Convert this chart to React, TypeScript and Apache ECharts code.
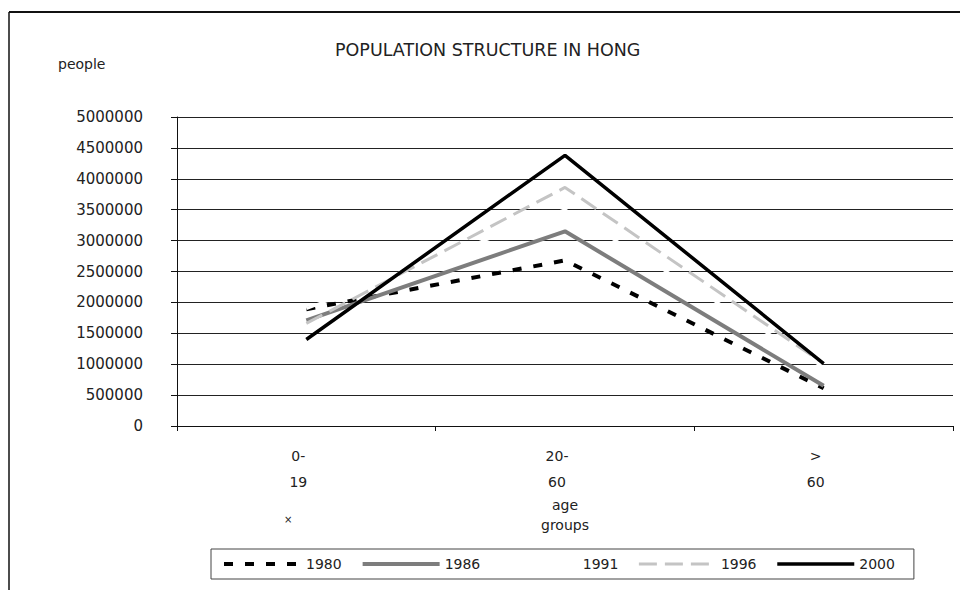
import React, { useEffect, useRef } from "react";
import * as echarts from "echarts";

const categories = ["0-\n19", "20-\n60", ">\n60"];
const seriesNames = ["1980", "1986", "1991", "1996", "2000"];
const values1980 = [1890000, 2680000, 610000];
const values1986 = [1710000, 3150000, 650000];
const values1991 = [1900000, 3500000, 950000];
const values1996 = [1660000, 3860000, 1010000];
const values2000 = [1400000, 4380000, 1010000];
const yTicks = { min: 0, max: 5000000, interval: 500000 };

const FONT = "'DejaVu Sans', sans-serif";

const styles: Record<string, { color: string; width: number; type: any; z: number }> = {
  "1980": { color: "#000000", width: 4, type: [9, 12], z: 2 },
  "1986": { color: "#7d7d7d", width: 4, type: "solid", z: 3 },
  "1991": { color: "#ffffff", width: 3, type: "solid", z: 4 },
  "1996": { color: "#c4c4c4", width: 3, type: [18, 8], z: 5 },
  "2000": { color: "#000000", width: 3.5, type: "solid", z: 6 },
};

export default function App() {
  const ref = useRef<HTMLDivElement>(null);
  useEffect(() => {
    if (!ref.current) return;
    const chart = echarts.init(ref.current, undefined, { renderer: "svg" });
    const mk = (name: string, data: number[]) => {
      const s = styles[name];
      return {
        name,
        type: "line",
        data,
        symbol: "none",
        z: s.z,
        lineStyle: { color: s.color, width: s.width, type: s.type, cap: "butt" },
        itemStyle: { color: s.color },
      };
    };
    chart.setOption({
      animation: false,
      backgroundColor: "#ffffff",
      title: {
        text: "POPULATION STRUCTURE IN HONG",
        left: 330,
        top: 36,
        textStyle: { fontFamily: FONT, fontSize: 17.5, fontWeight: "normal", color: "#222" },
      },
      legend: {
        data: seriesNames.map((n) => ({
          name: n,
          lineStyle: { width: styles[n].width, color: styles[n].color, type: styles[n].type },
        })),
        left: 211,
        top: 549,
        orient: "horizontal",
        itemWidth: 77,
        itemHeight: 12,
        itemGap: 19,
        padding: [8, 19, 8, 11],
        borderColor: "#444",
        borderWidth: 1,
        itemStyle: { opacity: 0 },
        textStyle: { fontFamily: FONT, fontSize: 14, color: "#222" },
      },
      grid: { left: 177, right: 7, top: 117, bottom: 164 },
      xAxis: {
        type: "category",
        data: categories,
        boundaryGap: true,
        name: "age\ngroups",
        nameLocation: "middle",
        nameGap: 69,
        nameMoveOverlap: false,
        nameTextStyle: { fontFamily: FONT, fontSize: 14, color: "#222", lineHeight: 20 },
        axisLine: { lineStyle: { color: "#111", width: 1 } },
        axisTick: { show: true, length: 5, lineStyle: { color: "#111" } },
        axisLabel: {
          fontFamily: FONT,
          fontSize: 14,
          color: "#222",
          lineHeight: 26,
          margin: 17,
          align: "center",
          padding: [0, 16, 0, 0],
        },
      },
      yAxis: {
        type: "value",
        min: yTicks.min,
        max: yTicks.max,
        interval: yTicks.interval,
        axisLine: { show: true, lineStyle: { color: "#111", width: 1 } },
        axisTick: { show: true, length: 6, lineStyle: { color: "#111" } },
        axisLabel: {
          fontFamily: FONT,
          fontSize: 15,
          color: "#222",
          margin: 34,
          formatter: (v: number) => String(v),
        },
        splitLine: { lineStyle: { color: "#222", width: 1 } },
      },
      graphic: [
        { type: "line", shape: { x1: 9, y1: 12, x2: 960, y2: 12 }, style: { stroke: "#111", lineWidth: 2 } },
        { type: "line", shape: { x1: 9, y1: 12, x2: 9, y2: 590 }, style: { stroke: "#111", lineWidth: 1.5 } },
        { type: "text", left: 58, top: 57, style: { text: "people", fontFamily: FONT, fontSize: 14, fill: "#222" } },
        { type: "text", left: 284, top: 514, style: { text: "×", fontFamily: FONT, fontSize: 10, fill: "#222" } },
      ],
      series: [
        mk("1980", values1980),
        mk("1986", values1986),
        mk("1991", values1991),
        mk("1996", values1996),
        mk("2000", values2000),
      ],
    });
    return () => chart.dispose();
  }, []);
  return <div ref={ref} style={{ width: 960, height: 590, position: "absolute", left: 0, top: 0 }} />;
}
